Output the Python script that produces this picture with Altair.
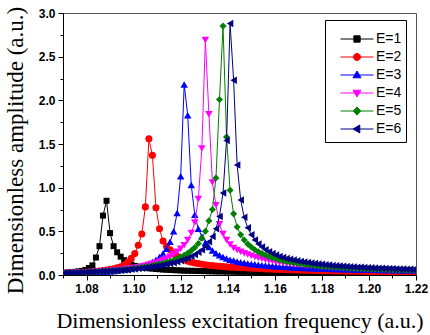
import altair as alt
import pandas as pd

freq = [1.0705, 1.0720, 1.0735, 1.0750, 1.0765, 1.0780, 1.0795, 1.0810, 1.0825, 1.0840,
        1.0855, 1.0870, 1.0885, 1.0900, 1.0915, 1.0930, 1.0945, 1.0960, 1.0975, 1.0990,
        1.1005, 1.1020, 1.1035, 1.1050, 1.1065, 1.1080, 1.1095, 1.1110, 1.1125, 1.1140,
        1.1155, 1.1170, 1.1185, 1.1200, 1.1215, 1.1230, 1.1245, 1.1260, 1.1275, 1.1290,
        1.1305, 1.1320, 1.1335, 1.1350, 1.1365, 1.1380, 1.1395, 1.1410, 1.1425, 1.1440,
        1.1455, 1.1470, 1.1485, 1.1500, 1.1515, 1.1530, 1.1545, 1.1560, 1.1575, 1.1590,
        1.1605, 1.1620, 1.1635, 1.1650, 1.1665, 1.1680, 1.1695, 1.1710, 1.1725, 1.1740,
        1.1755, 1.1770, 1.1785, 1.1800, 1.1815, 1.1830, 1.1845, 1.1860, 1.1875, 1.1890,
        1.1905, 1.1920, 1.1935, 1.1950, 1.1965, 1.1980, 1.1995, 1.2010, 1.2025, 1.2040,
        1.2055, 1.2070, 1.2085, 1.2100, 1.2115, 1.2130, 1.2145, 1.2160, 1.2175, 1.2190]

amp_e1 = [0.025, 0.028, 0.032, 0.036, 0.041, 0.047, 0.058, 0.080, 0.11, 0.20,
          0.33, 0.68, 0.85, 0.48, 0.33, 0.26, 0.21, 0.17, 0.14, 0.12,
          0.105, 0.095, 0.088, 0.082, 0.077, 0.073, 0.069, 0.066, 0.063, 0.060,
          0.058, 0.056, 0.054, 0.052, 0.050, 0.049, 0.048, 0.047, 0.046, 0.045,
          0.044, 0.043, 0.042, 0.041, 0.041, 0.040, 0.039, 0.039, 0.038, 0.037,
          0.037, 0.036, 0.036, 0.035, 0.035, 0.034, 0.034, 0.033, 0.033, 0.032,
          0.032, 0.032, 0.031, 0.031, 0.030, 0.030, 0.030, 0.029, 0.029, 0.029,
          0.028, 0.028, 0.028, 0.027, 0.027, 0.027, 0.026, 0.026, 0.026, 0.026,
          0.025, 0.025, 0.025, 0.025, 0.024, 0.024, 0.024, 0.024, 0.023, 0.023,
          0.023, 0.023, 0.023, 0.022, 0.022, 0.022, 0.022, 0.022, 0.021, 0.021]

amp_e2 = [0.021, 0.022, 0.024, 0.026, 0.028, 0.030, 0.032, 0.035, 0.038, 0.042,
          0.046, 0.051, 0.057, 0.064, 0.072, 0.082, 0.095, 0.115, 0.145, 0.19,
          0.245, 0.34, 0.47, 0.78, 1.56, 1.37, 0.77, 0.53, 0.39, 0.33,
          0.29, 0.245, 0.215, 0.19, 0.172, 0.158, 0.147, 0.138, 0.130, 0.123,
          0.117, 0.112, 0.107, 0.103, 0.099, 0.096, 0.093, 0.090, 0.088, 0.086,
          0.084, 0.082, 0.080, 0.078, 0.076, 0.074, 0.072, 0.070, 0.068, 0.067,
          0.065, 0.064, 0.062, 0.061, 0.060, 0.058, 0.057, 0.056, 0.055, 0.054,
          0.053, 0.052, 0.051, 0.050, 0.049, 0.048, 0.047, 0.047, 0.046, 0.045,
          0.044, 0.044, 0.043, 0.042, 0.042, 0.041, 0.040, 0.040, 0.039, 0.039,
          0.038, 0.038, 0.037, 0.037, 0.036, 0.036, 0.035, 0.035, 0.034, 0.034]

amp_e3 = [0.018, 0.019, 0.020, 0.021, 0.023, 0.024, 0.026, 0.028, 0.030, 0.032,
          0.034, 0.037, 0.040, 0.043, 0.047, 0.051, 0.056, 0.061, 0.067, 0.074,
          0.082, 0.091, 0.102, 0.115, 0.13, 0.15, 0.175, 0.205, 0.245, 0.30,
          0.38, 0.50, 0.71, 1.13, 2.18, 1.83, 1.03, 0.69, 0.53, 0.44,
          0.37, 0.32, 0.28, 0.25, 0.225, 0.205, 0.19, 0.175, 0.165, 0.155,
          0.147, 0.14, 0.133, 0.127, 0.122, 0.117, 0.113, 0.109, 0.105, 0.102,
          0.099, 0.096, 0.093, 0.091, 0.089, 0.087, 0.085, 0.083, 0.081, 0.080,
          0.078, 0.077, 0.075, 0.074, 0.073, 0.072, 0.070, 0.069, 0.068, 0.067,
          0.066, 0.065, 0.064, 0.063, 0.062, 0.062, 0.061, 0.060, 0.059, 0.058,
          0.058, 0.057, 0.056, 0.056, 0.055, 0.054, 0.054, 0.053, 0.053, 0.052]

amp_e4 = [0.021, 0.022, 0.024, 0.025, 0.027, 0.029, 0.031, 0.033, 0.035, 0.037,
          0.040, 0.043, 0.046, 0.049, 0.053, 0.057, 0.061, 0.066, 0.071, 0.077,
          0.083, 0.090, 0.098, 0.107, 0.117, 0.128, 0.14, 0.155, 0.17, 0.19,
          0.21, 0.235, 0.265, 0.30, 0.34, 0.40, 0.48, 0.60, 0.87, 1.45,
          2.69, 1.84, 1.06, 0.80, 0.58, 0.47, 0.40, 0.35, 0.31, 0.285,
          0.265, 0.25, 0.235, 0.22, 0.205, 0.195, 0.185, 0.175, 0.166, 0.158,
          0.150, 0.143, 0.137, 0.131, 0.126, 0.121, 0.116, 0.112, 0.108, 0.104,
          0.100, 0.097, 0.094, 0.091, 0.088, 0.086, 0.083, 0.081, 0.079, 0.077,
          0.075, 0.073, 0.071, 0.070, 0.068, 0.067, 0.065, 0.064, 0.063, 0.062,
          0.060, 0.059, 0.058, 0.057, 0.056, 0.055, 0.054, 0.053, 0.052, 0.051]

amp_e5 = [0.022, 0.023, 0.025, 0.026, 0.028, 0.030, 0.032, 0.034, 0.036, 0.038,
          0.040, 0.043, 0.046, 0.049, 0.052, 0.055, 0.059, 0.063, 0.067, 0.072,
          0.077, 0.082, 0.088, 0.094, 0.101, 0.108, 0.116, 0.125, 0.135, 0.146,
          0.158, 0.172, 0.187, 0.205, 0.225, 0.25, 0.28, 0.315, 0.36, 0.42,
          0.50, 0.62, 0.75, 1.11, 2.01, 2.85, 1.58, 0.97, 0.70, 0.55,
          0.46, 0.40, 0.355, 0.32, 0.29, 0.265, 0.245, 0.228, 0.212, 0.198,
          0.186, 0.175, 0.165, 0.156, 0.148, 0.141, 0.134, 0.128, 0.122, 0.117,
          0.112, 0.108, 0.104, 0.100, 0.097, 0.094, 0.091, 0.088, 0.085, 0.083,
          0.080, 0.078, 0.076, 0.074, 0.072, 0.071, 0.069, 0.067, 0.066, 0.065,
          0.063, 0.062, 0.061, 0.060, 0.059, 0.058, 0.057, 0.056, 0.055, 0.054]

amp_e6 = [0.024, 0.025, 0.026, 0.027, 0.029, 0.030, 0.032, 0.034, 0.036, 0.038,
          0.040, 0.042, 0.044, 0.046, 0.049, 0.052, 0.055, 0.058, 0.061, 0.065,
          0.069, 0.073, 0.078, 0.083, 0.088, 0.094, 0.100, 0.107, 0.114, 0.122,
          0.131, 0.141, 0.152, 0.165, 0.18, 0.195, 0.215, 0.235, 0.26, 0.29,
          0.33, 0.38, 0.44, 0.53, 0.67, 0.94, 1.54, 2.88, 2.23, 1.26,
          0.86, 0.66, 0.54, 0.46, 0.40, 0.355, 0.32, 0.29, 0.265, 0.245,
          0.228, 0.213, 0.200, 0.190, 0.180, 0.171, 0.163, 0.156, 0.149, 0.143,
          0.137, 0.132, 0.127, 0.122, 0.118, 0.114, 0.110, 0.107, 0.104, 0.101,
          0.098, 0.095, 0.093, 0.090, 0.088, 0.086, 0.084, 0.082, 0.080, 0.078,
          0.076, 0.075, 0.073, 0.072, 0.070, 0.069, 0.068, 0.066, 0.065, 0.064]

series_names = ["E=1", "E=2", "E=3", "E=4", "E=5", "E=6"]
series_amps = [amp_e1, amp_e2, amp_e3, amp_e4, amp_e5, amp_e6]
colors = ["#000000", "#ff0000", "#0000ff", "#ff00ff", "#008000", "#000080"]
marker_shapes = ["square", "circle", "triangle-up", "triangle-down", "diamond", "triangle-left"]
marker_sizes = [36, 50, 56, 56, 50, 56]
legend_paths = [
    "M-1,0H1M-0.19,-0.19H0.19V0.19H-0.19Z",
    "M-1,0H1M-0.21,0A0.21,0.21,0,1,1,0.21,0A0.21,0.21,0,1,1,-0.21,0Z",
    "M-1,0H1M0,-0.24L0.24,0.17L-0.24,0.17Z",
    "M-1,0H1M0,0.24L0.24,-0.17L-0.24,-0.17Z",
    "M-1,0H1M0,-0.25L0.22,0L0,0.25L-0.22,0Z",
    "M-1,0H1M-0.24,0L0.17,-0.24L0.17,0.24Z",
]

x_major = [1.08, 1.10, 1.12, 1.14, 1.16, 1.18, 1.20, 1.22]
x_minor = [1.07, 1.09, 1.11, 1.13, 1.15, 1.17, 1.19, 1.21]
y_major = [0.0, 0.5, 1.0, 1.5, 2.0, 2.5, 3.0]
y_minor = [0.25, 0.75, 1.25, 1.75, 2.25, 2.75]

rows = []
for name, amps in zip(series_names, series_amps):
    for f, a in zip(freq, amps):
        rows.append({"series": name, "freq": f, "amp": a})
df = pd.DataFrame(rows)

xscale = alt.Scale(domain=[1.07, 1.22], nice=False, zero=False)
yscale = alt.Scale(domain=[0, 3], nice=False, zero=True)

label_font = "Liberation Sans"
title_font = "Liberation Serif"

x_main_axis = alt.Axis(values=x_major, format=".2f", title="Dimensionless excitation frequency (a.u.)",
                       orient="bottom", grid=False, tickSize=5, tickColor="black", domainColor="black",
                       labelFont=label_font, labelFontWeight="bold", labelFontSize=12, labelColor="black",
                       labelPadding=3, labelOverlap=False, labelFlush=False,
                       titleFont=title_font, titleFontWeight="normal", titleFontSize=22, titleColor="black",
                       titleBaseline="alphabetic", titleY=52)
y_main_axis = alt.Axis(values=y_major, format=".1f", title="Dimensionless amplitude (a.u.)",
                       orient="left", grid=False, tickSize=5, tickColor="black", domainColor="black",
                       labelFont=label_font, labelFontWeight="bold", labelFontSize=12, labelColor="black",
                       labelPadding=3, labelOverlap=False, labelFlush=False,
                       titleFont=title_font, titleFontWeight="normal", titleFontSize=23, titleColor="black",
                       titleBaseline="bottom", titleX=-36, titleY=137)
x_minor_axis = alt.Axis(values=x_minor, labels=False, title=None, orient="bottom", grid=False,
                        domain=False, tickSize=3, tickColor="black")
y_minor_axis = alt.Axis(values=y_minor, labels=False, title=None, orient="left", grid=False,
                        domain=False, tickSize=3, tickColor="black")

layers = []
for i, (name, col, shp, sz) in enumerate(zip(series_names, colors, marker_shapes, marker_sizes)):
    base = alt.Chart(df).transform_filter(alt.datum.series == name)
    xa = x_main_axis if i == 0 else None
    ya = y_main_axis if i == 0 else None
    line = base.mark_line(color=col, strokeWidth=1, clip=True).encode(
        x=alt.X("freq:Q", scale=xscale, axis=xa),
        y=alt.Y("amp:Q", scale=yscale, axis=ya),
    )
    pts = base.mark_point(filled=True, color=col, shape=shp, size=sz, opacity=1, clip=True).encode(
        x=alt.X("freq:Q", scale=xscale, axis=None),
        y=alt.Y("amp:Q", scale=yscale, axis=None),
    )
    layers += [line, pts]

leg = dict(title="\u00a0", titleFontSize=6, titlePadding=0, orient="none", legendX=262, legendY=7,
           strokeColor="black", fillColor="white", padding=4, cornerRadius=0,
           labelFont=label_font, labelFontSize=14, labelColor="black", labelOffset=2,
           symbolOffset=11, symbolSize=1089, symbolStrokeWidth=1, symbolOpacity=1,
           rowPadding=0, clipHeight=18)

legend_layer = alt.Chart(df).mark_point(filled=True, opacity=0, clip=True).encode(
    x=alt.X("freq:Q", scale=xscale, axis=x_minor_axis),
    y=alt.Y("amp:Q", scale=yscale, axis=y_minor_axis),
    fill=alt.Fill("series:N", scale=alt.Scale(domain=series_names, range=colors), legend=alt.Legend(**leg)),
    stroke=alt.Stroke("series:N", scale=alt.Scale(domain=series_names, range=colors), legend=alt.Legend(**leg)),
    shape=alt.Shape("series:N", scale=alt.Scale(domain=series_names, range=legend_paths), legend=alt.Legend(**leg)),
)

chart = alt.layer(*layers, legend_layer).resolve_axis(
    x="independent", y="independent"
).properties(
    width=353, height=262,
    autosize=alt.AutoSizeParams(type="none"),
    padding={"left": 63, "top": 13, "right": 14, "bottom": 60},
    background="white",
).configure_view(
    stroke="#555555", strokeWidth=1
)

chart.save("out.html", embed_options={"renderer": "svg", "actions": False})
